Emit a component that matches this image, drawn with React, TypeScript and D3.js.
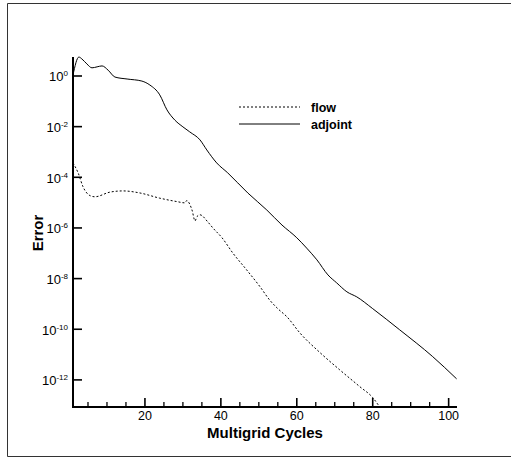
import React from "react";
import * as d3 from "d3";

const adjointCycles = [1.05, 2.6, 3.4, 4.7, 6.05, 7.4, 8.7, 10.3, 12.1, 15.3, 19.2, 21.3, 23.9, 25.8, 27.9, 30, 31.8, 34.5, 36.3, 38.9, 41.8, 47.1, 52.1, 56.1, 60, 62.6, 65.3, 68.2, 70.5, 73.2, 75.8, 80, 87.1, 95.8, 102.1];
const adjointError = [1.1, 5.6, 4.7, 3.0, 2.1, 2.3, 2.5, 1.7, 0.91, 0.76, 0.63, 0.44, 0.18, 0.046, 0.018, 0.0098, 0.0062, 3.0e-3, 1.2e-3, 3.7e-4, 1.5e-4, 2.4e-5, 5.1e-6, 1.3e-6, 4.1e-7, 1.6e-7, 5.5e-8, 1.4e-8, 6.8e-9, 3.0e-9, 1.9e-9, 6.5e-10, 9.5e-11, 8.3e-12, 1.1e-12];

const flowCycles = [1.05, 2.4, 3.7, 5.5, 6.8, 10.8, 14.2, 18.7, 23.9, 28.4, 30.5, 31, 32.4, 33.2, 33.7, 34.5, 36.6, 37.9, 40.3, 43.2, 46.8, 50.3, 52.9, 55, 57.4, 60.8, 66.1, 71.3, 76.6, 80, 81.8];
const flowError = [3.7e-4, 1.5e-4, 4.2e-5, 1.9e-5, 1.7e-5, 2.6e-5, 2.9e-5, 2.4e-5, 1.5e-5, 1.1e-5, 9.8e-6, 1.2e-5, 5.1e-6, 1.9e-6, 2.8e-6, 3.3e-6, 1.7e-6, 1.0e-6, 4.1e-7, 1.0e-7, 2.2e-8, 4.8e-9, 1.4e-9, 6.5e-10, 3.1e-10, 7.2e-11, 1.2e-11, 2.5e-12, 5.4e-13, 2.0e-13, 8.7e-14];

const seriesNames = ["flow", "adjoint"];
const xTicks = [20, 40, 60, 80, 100];
const xMinorTicks = [5, 10, 15, 25, 30, 35, 45, 50, 55, 65, 70, 75, 85, 90, 95];
const yTickExponents = [0, -2, -4, -6, -8, -10, -12];
const xLabel = "Multigrid Cycles";
const yLabel = "Error";

const FONT = "'Liberation Sans', Arial, sans-serif";

export default function App() {
  const left = 73, right = 457, top = 57, bottom = 407;
  const x = d3.scaleLinear().domain([1.05, 102.2]).range([left, right]);
  const y = d3.scaleLog().domain([Math.pow(10, -13.07), Math.pow(10, 0.75)]).range([bottom, top]);

  const line = d3
    .line<[number, number]>()
    .x((d) => x(d[0]))
    .y((d) => y(d[1]))
    .curve(d3.curveMonotoneX);

  const adj: [number, number][] = adjointCycles.map((c, i) => [c, adjointError[i]]);
  const flw: [number, number][] = flowCycles.map((c, i) => [c, flowError[i]]);

  const legendX1 = 239, legendX2 = 300, legendY = 107, legendGap = 17;

  return (
    <svg
      width={511}
      height={458}
      style={{ position: "absolute", left: 0, top: 0, background: "#fff" }}
      fontFamily={FONT}
    >
      <rect x={0} y={0} width={511} height={458} fill="#fff" />
      <path d="M 511 3.5 H 7.5 V 456.5 H 511" fill="none" stroke="#333" strokeWidth={1} />
      <defs>
        <clipPath id="plotclip">
          <rect x={left} y={top - 2} width={right - left + 2} height={bottom - top + 2} />
        </clipPath>
      </defs>
      <g clipPath="url(#plotclip)">
        <path d={line(flw) || ""} fill="none" stroke="#000" strokeWidth={1} strokeDasharray="2,2" />
        <path d={line(adj) || ""} fill="none" stroke="#000" strokeWidth={1} />
      </g>
      {/* axes */}
      <line x1={left} x2={left} y1={top} y2={bottom + 1} stroke="#000" strokeWidth={2} />
      <line x1={left - 1} x2={right} y1={bottom} y2={bottom} stroke="#000" strokeWidth={2} />
      {xTicks.map((t) => (
        <g key={"xt" + t}>
          <line x1={x(t)} x2={x(t)} y1={bottom} y2={bottom - 9} stroke="#000" strokeWidth={1.6} />
          <text x={x(t)} y={bottom + 13} fontSize={12.5} textAnchor="middle" fill="#000">
            {t}
          </text>
        </g>
      ))}
      {xMinorTicks.map((t) => (
        <line key={"xm" + t} x1={x(t)} x2={x(t)} y1={bottom} y2={bottom - 5} stroke="#000" strokeWidth={1.3} />
      ))}
      {yTickExponents.map((e) => {
        const yy = y(Math.pow(10, e));
        return (
          <g key={"yt" + e}>
            <line x1={left} x2={left + 9} y1={yy} y2={yy} stroke="#000" strokeWidth={1.6} />
            <text x={68} y={yy + 5.5} fontSize={13} textAnchor="end" fill="#000">
              10
              <tspan fontSize={8} dy={-5}>
                {e === 0 ? "0" : String(e)}
              </tspan>
            </text>
          </g>
        );
      })}
      {/* axis labels */}
      <text x={265} y={437.5} fontSize={15} fontWeight="bold" textAnchor="middle" fill="#000">
        {xLabel}
      </text>
      <text
        transform="translate(43,233) rotate(-90)"
        fontSize={15}
        fontWeight="bold"
        textAnchor="middle"
        fill="#000"
      >
        {yLabel}
      </text>
      {/* legend */}
      {seriesNames.map((n, i) => (
        <g key={n}>
          <line
            x1={legendX1}
            x2={legendX2}
            y1={legendY + i * legendGap}
            y2={legendY + i * legendGap}
            stroke="#000"
            strokeWidth={1}
            strokeDasharray={i === 0 ? "2,2" : undefined}
          />
          <text x={311} y={legendY + i * legendGap + 4.5} fontSize={12.5} fontWeight="bold" fill="#000">
            {n}
          </text>
        </g>
      ))}
    </svg>
  );
}
